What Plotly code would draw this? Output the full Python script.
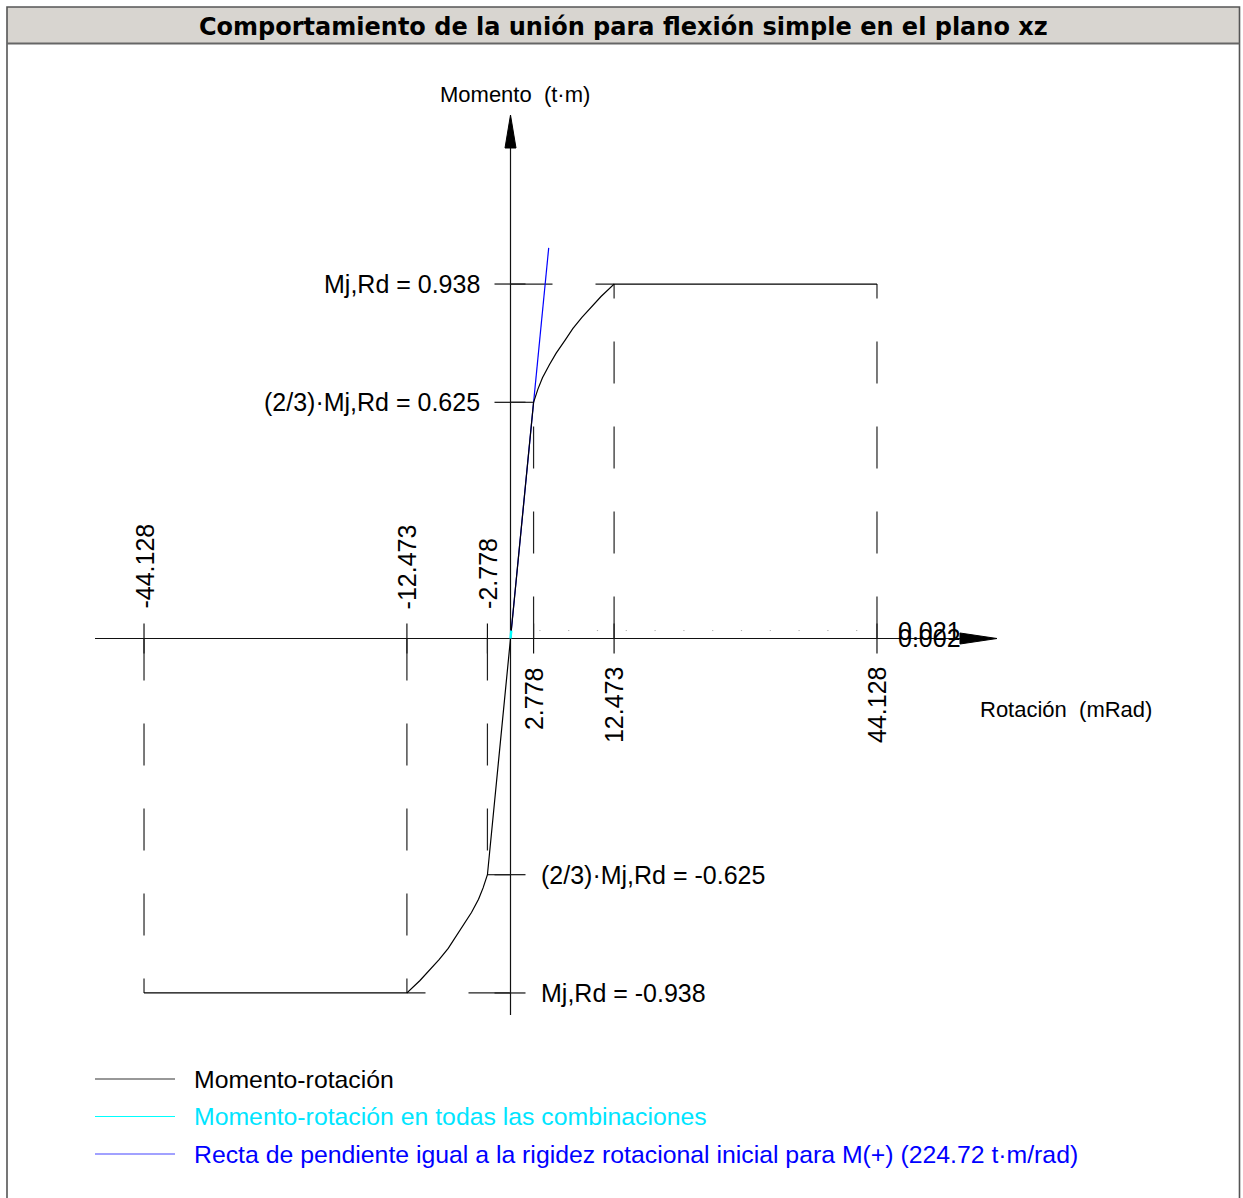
import plotly.graph_objects as go

# ---------------------------------------------------------------------------
# Data: moment-rotation law of the joint (bending in plane xz)
# ---------------------------------------------------------------------------
MJRD = 0.938          # t·m, design moment resistance Mj,Rd
M23 = 0.625           # t·m, (2/3)·Mj,Rd
ROT_23 = 2.778        # mRad, rotation at (2/3)·Mj,Rd
ROT_RD = 12.473       # mRad, rotation at Mj,Rd
ROT_CU = 44.128       # mRad, rotation capacity

# non-linear branch between (2/3)·Mj,Rd and Mj,Rd (positive side)
BRANCH_ROT = [2.778, 3.3, 3.85, 4.7, 5.5, 6.6, 7.5, 8.6, 9.6, 10.9, 12.473]
BRANCH_M = [0.625, 0.66, 0.69, 0.725, 0.755, 0.79, 0.82, 0.85, 0.875, 0.905, 0.938]

S_INI = 224.72        # t·m/rad, initial rotational stiffness for M(+)
S_LINE_END = 4.6      # mRad, extent of the stiffness line

COMB_M = [0.021, 0.002]   # t·m, moments of all load combinations

X_TICKS = [-ROT_CU, -ROT_RD, -ROT_23, ROT_23, ROT_RD, ROT_CU]
Y_LEVELS = [MJRD, M23, -M23, -MJRD]
Y_LABELS = ["Mj,Rd = 0.938", "(2/3)·Mj,Rd = 0.625",
            "(2/3)·Mj,Rd = -0.625", "Mj,Rd = -0.938"]

TITLE = "Comportamiento de la unión para flexión simple en el plano xz"
LEGEND = [
    ("Momento-rotación", "#000000", "#333333"),
    ("Momento-rotación en todas las combinaciones", "#00e5ff", "#00ffff"),
    ("Recta de pendiente igual a la rigidez rotacional inicial para M(+) "
     "(224.72 t·m/rad)", "#0000ff", "#4444ff"),
]

# ---------------------------------------------------------------------------
# Drawing scale (pixels per unit) and page size
# ---------------------------------------------------------------------------
W, H = 1243, 1198
X0_PX, SX = 510.5, 8.305      # origin column, px per mRad
Y0_PX, SY = 638.5, 377.9      # origin row, px per t·m
X_RANGE = [-X0_PX / SX, (W - X0_PX) / SX]
Y_RANGE = [(Y0_PX - H) / SY, Y0_PX / SY]


def dx(px):
    return px / SX


def dy(px):
    return px / SY


def px_x(px):
    return px / W


def px_y(py):
    return 1 - py / H


FONT = "Arial, 'Liberation Sans', sans-serif"
INK = "#111111"
fig = go.Figure()


def seg(xs, ys, color=INK, width=1.2, dash="solid"):
    fig.add_trace(go.Scatter(x=xs, y=ys, mode="lines", hoverinfo="skip",
                             showlegend=False,
                             line=dict(color=color, width=width, dash=dash)))


# axes with arrowheads
seg([-50.03, X_RANGE[1] - dx(W - 962)], [0, 0])
seg([0, 0], [-0.996, (Y0_PX - 146) / SY])
x_tip = (997 - X0_PX) / SX
fig.add_trace(go.Scatter(x=[x_tip, x_tip - dx(37), x_tip - dx(37), x_tip],
                         y=[0, dy(5.5), -dy(5.5), 0], mode="lines",
                         fill="toself", fillcolor="#000000",
                         line=dict(color="#000000", width=1),
                         hoverinfo="skip", showlegend=False))
y_tip = (Y0_PX - 115) / SY
fig.add_trace(go.Scatter(x=[0, dx(5.5), -dx(5.5), 0],
                         y=[y_tip, y_tip - dy(33), y_tip - dy(33), y_tip],
                         mode="lines", fill="toself", fillcolor="#000000",
                         line=dict(color="#000000", width=1),
                         hoverinfo="skip", showlegend=False))

# short ticks across the axes
for r in X_TICKS:
    seg([r, r], [-dy(15), dy(15)])
for m in Y_LEVELS:
    seg([-dx(16), dx(15)], [m, m])

# dashed reference lines from the axes to the characteristic points
DASH = "42px,43px"
key_pts = [(ROT_23, M23), (ROT_RD, MJRD), (ROT_CU, MJRD),
           (-ROT_23, -M23), (-ROT_RD, -MJRD), (-ROT_CU, -MJRD)]
for r, m in key_pts:
    seg([r, r], [0, m], color="#222222", dash=DASH)
for r, m in key_pts[:2] + key_pts[3:5]:
    seg([0, r], [m, m], color="#222222", dash=DASH)

# moment level of the load combinations (dotted)
seg([0, ROT_CU], [COMB_M[0], COMB_M[0]], color="#b0b0b0", width=1,
    dash="1.2px,27.6px")

# initial stiffness line (under the curve)
seg([0, S_LINE_END], [0, S_INI * S_LINE_END / 1000], color="#0000ff",
    width=1.2)

# moment-rotation curve
curve_x = ([-ROT_CU] + [-r for r in reversed(BRANCH_ROT)]
           + BRANCH_ROT + [ROT_CU])
curve_y = ([-MJRD] + [-m for m in reversed(BRANCH_M)]
           + BRANCH_M + [MJRD])
seg(curve_x, curve_y, color="#000000", width=1.2)

# combinations on the curve
comb_rot = [m / S_INI * 1000 for m in COMB_M]
seg([0, comb_rot[0]], [0, COMB_M[0]], color="#00ffff", width=2.4)

# ---------------------------------------------------------------------------
# Texts
# ---------------------------------------------------------------------------
ann = []
for r in X_TICKS:
    if r > 0:
        ann.append(dict(x=r, y=-dy(665 - Y0_PX), yanchor="top",
                        xanchor="center", text=f"{r:.3f}", textangle=-90))
    else:
        ann.append(dict(x=r, y=dy(Y0_PX - 611), yanchor="bottom",
                        xanchor="center", text=f"{r:.3f}", textangle=-90))
for m, lab in zip(Y_LEVELS, Y_LABELS):
    if m > 0:
        ann.append(dict(x=-dx(X0_PX - 482), y=m, xanchor="right",
                        yanchor="middle", text=lab))
    else:
        ann.append(dict(x=dx(539 - X0_PX), y=m, xanchor="left",
                        yanchor="middle", text=lab))
for m in COMB_M:
    ann.append(dict(x=dx(896 - X0_PX), y=m, xanchor="left",
                    yanchor="middle", text=f"{m:.3f}"))
for a in ann:
    a.update(xref="x", yref="y", showarrow=False,
             font=dict(family=FONT, size=25, color="#000000"))

ann.append(dict(x=dx(515 - X0_PX), y=dy(Y0_PX - 94), xref="x", yref="y",
                text="Momento \u00a0(t·m)", showarrow=False,
                xanchor="center", yanchor="middle",
                font=dict(family=FONT, size=22, color="#000000")))
ann.append(dict(x=dx(978 - X0_PX), y=-dy(709 - Y0_PX), xref="x", yref="y",
                text="Rotación \u00a0(mRad)", showarrow=False,
                xanchor="left", yanchor="middle",
                font=dict(family=FONT, size=22, color="#000000")))

# title band
ann.append(dict(x=px_x(623.5), y=px_y(27), xref="paper", yref="paper",
                text=f"<b>{TITLE}</b>", showarrow=False,
                xanchor="center", yanchor="middle",
                font=dict(family="'DejaVu Sans', Verdana, sans-serif",
                          size=24, color="#000000")))

shapes = [
    dict(type="rect", xref="paper", yref="paper",
         x0=px_x(7), x1=px_x(1239.5), y0=px_y(7), y1=px_y(43.5),
         fillcolor="#d8d5d0", line=dict(width=0), layer="below"),
    dict(type="rect", xref="paper", yref="paper",
         x0=px_x(7), x1=px_x(1239.5), y0=px_y(7), y1=-0.01,
         fillcolor="rgba(0,0,0,0)", line=dict(color="#555555", width=1.6)),
    dict(type="line", xref="paper", yref="paper",
         x0=px_x(7), x1=px_x(1239.5), y0=px_y(43.5), y1=px_y(43.5),
         line=dict(color="#666666", width=2)),
]

# legend
for i, (lab, tcol, lcol) in enumerate(LEGEND):
    yy = px_y(1079 + i * 37.5)
    shapes.append(dict(type="line", xref="paper", yref="paper",
                       x0=px_x(95), x1=px_x(175), y0=yy, y1=yy,
                       line=dict(color=lcol, width=1.2)))
    ann.append(dict(x=px_x(191.5), y=yy, xref="paper", yref="paper",
                    text=lab, showarrow=False, xanchor="left",
                    yanchor="middle",
                    font=dict(family=FONT, size=24.8, color=tcol)))

fig.update_layout(
    width=W, height=H, autosize=False,
    margin=dict(l=0, r=0, t=0, b=0, pad=0),
    paper_bgcolor="#ffffff", plot_bgcolor="#ffffff",
    xaxis=dict(range=X_RANGE, visible=False, fixedrange=True),
    yaxis=dict(range=Y_RANGE, visible=False, fixedrange=True),
    annotations=ann, shapes=shapes, showlegend=False,
)

fig.write_html("out.html", config={"displayModeBar": False})
